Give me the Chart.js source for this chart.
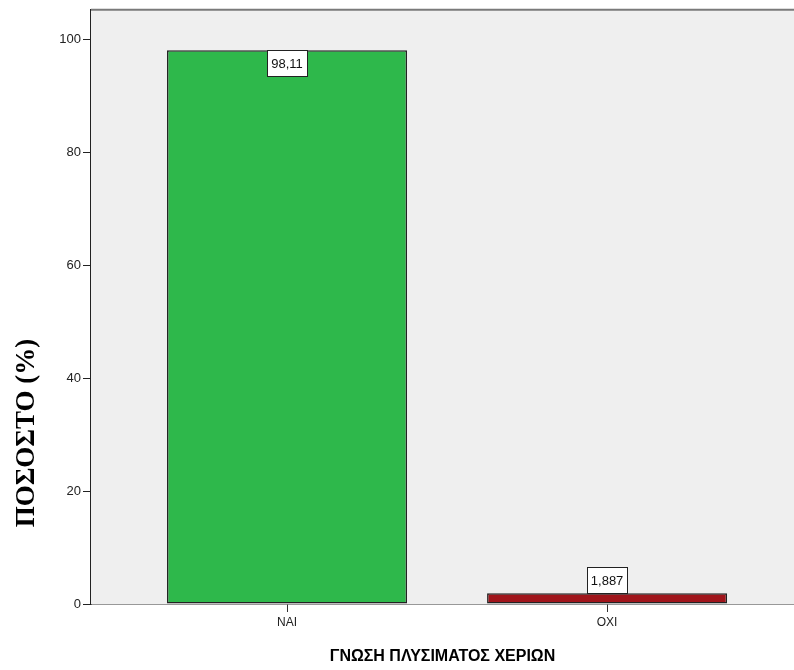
<!DOCTYPE html>
<html>
<head>
<meta charset="utf-8">
<script src="https://cdn.jsdelivr.net/npm/chart.js@4"></script>
<style>
  body { margin: 0; background: #fff; }
  #wrap { width: 794px; height: 670px; }
</style>
</head>
<body>
<div id="wrap"><canvas id="chart" width="794" height="670"></canvas></div>
<script>
const categories = ["ΝΑΙ", "ΟΧΙ"];
const percents = [98.11, 1.887];
const valueLabels = ["98,11", "1,887"];
const yTicks = [0, 20, 40, 60, 80, 100];
const barColors = ["#2eb84b", "#a0151b"];

const plotFrame = {
  id: "plotFrame",
  beforeDatasetsDraw(chart) {
    const { ctx, chartArea: a } = chart;
    ctx.save();
    ctx.fillStyle = "#efefef";
    ctx.fillRect(a.left, a.top, a.right - a.left, a.bottom - a.top);
    ctx.strokeStyle = "#7a7a7a";
    ctx.lineWidth = 2;
    ctx.beginPath();
    ctx.moveTo(a.left, a.top);
    ctx.lineTo(a.right, a.top);
    ctx.stroke();
    ctx.restore();
  },
  afterDraw(chart) {
    const { ctx, chartArea: a } = chart;
    ctx.save();
    ctx.fillStyle = "#000";
    ctx.font = "bold 16px 'Liberation Sans', Arial, sans-serif";
    ctx.textAlign = "center";
    ctx.textBaseline = "middle";
    ctx.fillText("ΓΝΩΣΗ ΠΛΥΣΙΜΑΤΟΣ ΧΕΡΙΩΝ", (a.left + a.right) / 2, 657);
    ctx.translate(27, 433);
    ctx.rotate(-Math.PI / 2);
    ctx.font = "bold 27px 'Liberation Serif', 'Times New Roman', serif";
    ctx.fillText("ΠΟΣΟΣΤΟ (%)", 0, 0);
    ctx.restore();
  }
};

const valueBoxes = {
  id: "valueBoxes",
  afterDatasetsDraw(chart) {
    const { ctx } = chart;
    const meta = chart.getDatasetMeta(0);
    ctx.save();
    ctx.font = "13px 'Liberation Sans', Arial, sans-serif";
    ctx.textAlign = "center";
    ctx.textBaseline = "middle";
    meta.data.forEach((bar, i) => {
      const w = 40, h = 26;
      const inside = bar.base - bar.y > h + 4;
      const top = inside ? bar.y : bar.y - h;
      ctx.fillStyle = "#fff";
      ctx.strokeStyle = "#222";
      ctx.lineWidth = 1;
      ctx.fillRect(bar.x - w / 2, top, w, h);
      ctx.strokeRect(Math.round(bar.x - w / 2) + 0.5, Math.round(top) + 0.5, w, h);
      ctx.fillStyle = "#111";
      ctx.fillText(valueLabels[i], bar.x, top + h / 2 + 1);
    });
    ctx.restore();
  }
};

new Chart(document.getElementById("chart"), {
  type: "bar",
  data: {
    datasets: [{
      data: percents.map((v, i) => ({ x: i, y: v })),
      backgroundColor: barColors,
      borderColor: "#222",
      borderWidth: 1.5,
      borderSkipped: false,
      categoryPercentage: 1,
      barPercentage: 0.75
    }]
  },
  options: {
    responsive: false,
    animation: false,
    layout: { padding: { top: 9, right: 0, left: 0, bottom: 0 } },
    plugins: { legend: { display: false }, tooltip: { enabled: false } },
    scales: {
      x: {
        type: "linear",
        min: -0.6125,
        max: 1.584,
        offset: false,
        afterFit: (s) => { s.height = 66; },
        afterBuildTicks: (s) => { s.ticks = categories.map((c, i) => ({ value: i })); },
        ticks: {
          callback: (v) => categories[v],
          color: "#222",
          font: { family: "'Liberation Sans', Arial, sans-serif", size: 12 },
          padding: 3
        },
        grid: { offset: false, drawOnChartArea: false, drawTicks: true, tickLength: 8, color: "#333" },
        border: { display: true, color: "#333", width: 1.5 }
      },
      y: {
        min: 0,
        max: 105.3,
        afterFit: (s) => { s.width = 91; },
        afterBuildTicks: (s) => { s.ticks = yTicks.map((v) => ({ value: v })); },
        ticks: {
          color: "#222",
          font: { family: "'Liberation Sans', Arial, sans-serif", size: 13 },
          padding: 2
        },
        grid: { drawOnChartArea: false, drawTicks: true, tickLength: 8, color: "#222" },
        border: { display: true, color: "#222", width: 1.5 }
      }
    }
  },
  plugins: [plotFrame, valueBoxes]
});
</script>
</body>
</html>
